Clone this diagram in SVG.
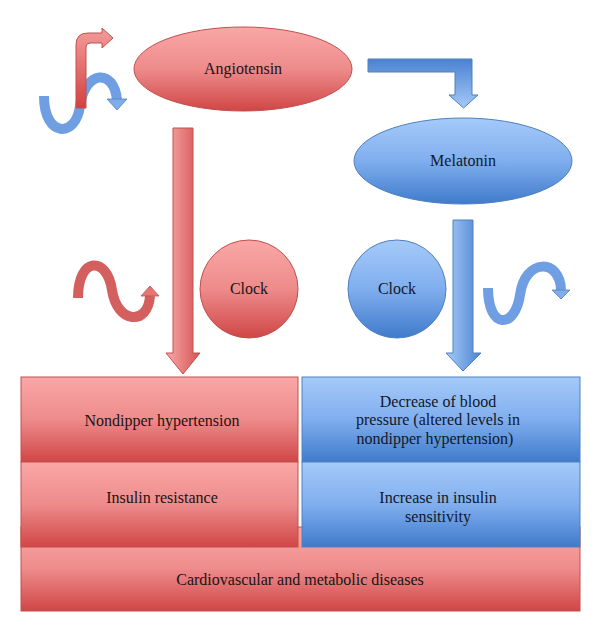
<svg xmlns="http://www.w3.org/2000/svg" width="600" height="632" viewBox="0 0 600 632">
<defs>
<linearGradient id="rv" x1="0" y1="0" x2="0" y2="1"><stop offset="0" stop-color="#faa7a7"/><stop offset="0.5" stop-color="#ee8b8b"/><stop offset="1" stop-color="#d04646"/></linearGradient>
<linearGradient id="bv" x1="0" y1="0" x2="0" y2="1"><stop offset="0" stop-color="#a5cafa"/><stop offset="0.5" stop-color="#80aeee"/><stop offset="1" stop-color="#3f7bcb"/></linearGradient>
<linearGradient id="rh" x1="0" y1="0" x2="1" y2="0"><stop offset="0" stop-color="#f8aaaa"/><stop offset="1" stop-color="#d55252"/></linearGradient>
<linearGradient id="bh" x1="0" y1="0" x2="1" y2="0"><stop offset="0" stop-color="#a7cbf8"/><stop offset="1" stop-color="#4b83d2"/></linearGradient>
<linearGradient id="bbent" x1="0" y1="0" x2="0" y2="1"><stop offset="0" stop-color="#4a82d2"/><stop offset="1" stop-color="#a6c9f7"/></linearGradient>
<linearGradient id="rbent" x1="0" y1="0" x2="0" y2="1"><stop offset="0" stop-color="#f49c9c"/><stop offset="1" stop-color="#d44040"/></linearGradient>
</defs>
<style>
.t{font-family:'Liberation Serif','Times New Roman',serif;font-size:16px;text-anchor:middle;fill:#1a1414}
.tb{font-family:'Liberation Serif','Times New Roman',serif;font-size:16px;text-anchor:middle;fill:#10182a}
.rs{stroke:#c0504d;stroke-width:1}
.bs{stroke:#4f81bd;stroke-width:1}
.rw{fill:none;stroke:#d45f5f;stroke-width:10;stroke-linecap:butt}
.bw{fill:none;stroke:#6f9fe2;stroke-width:10;stroke-linecap:butt}
</style>

<g id="connectors">
<polygon class="bs" fill="url(#bbent)" points="368,59 472,59 472,95 478,95 463.5,108 449,95 455,95 455,72 368,72"/>
<polygon class="rs" fill="url(#rh)" points="173,128 193,128 193,353 200,353 183,374 166,353 173,353"/>
<polygon class="bs" fill="url(#bh)" points="453,220 473,220 473,353 481,353 463,371 446,353 453,353"/>
</g>

<g id="wave-top-left">
<path class="bw" d="M44 96 C44 138 76 138 80 106 C85 70 114 68 117 100"/>
<polygon fill="#80adea" stroke="#4f81bd" stroke-width="0.8" points="107,99 127,99 117,110"/>
<path fill="url(#rbent)" class="rs" d="M76 108 L76 45 Q76 33 88 33 L102 33 L102 28 L113 38 L102 48 L102 43 L90 43 Q86 43 86 47 L86 108 Z"/>
</g>

<g id="wave-left">
<path class="rw" d="M78 298 C78 256 107 256 112 290 C117 324 148 326 150 296"/>
<polygon fill="#e47676" stroke="#c0504d" stroke-width="0.8" points="141,296 159,296 150,286"/>
</g>

<g id="wave-right">
<path class="bw" d="M488 288 C488 330 515 329 520 295 C525 258 560 258 561 290"/>
<polygon fill="#80adea" stroke="#4f81bd" stroke-width="0.8" points="552,290 570,290 561,299"/>
</g>

<g id="angiotensin">
<ellipse class="rs" fill="url(#rv)" cx="243" cy="69" rx="109" ry="42"/>
<text class="t" x="243" y="74">Angiotensin</text>
</g>

<g id="melatonin">
<ellipse class="bs" fill="url(#bv)" cx="463" cy="161" rx="109" ry="43"/>
<text class="tb" x="463" y="166">Melatonin</text>
</g>

<g id="clock-red">
<circle class="rs" fill="url(#rv)" cx="249" cy="289" r="49"/>
<text class="t" x="249" y="294">Clock</text>
</g>

<g id="clock-blue">
<circle class="bs" fill="url(#bv)" cx="397" cy="289" r="49"/>
<text class="tb" x="397" y="294">Clock</text>
</g>

<g id="cardio">
<rect class="rs" fill="url(#rv)" x="21" y="527" width="559" height="84"/>
<text class="t" x="300" y="585">Cardiovascular and metabolic diseases</text>
</g>

<g id="nondipper">
<rect class="rs" fill="url(#rv)" x="21" y="377" width="277" height="85"/>
<text class="t" x="162" y="426">Nondipper hypertension</text>
</g>

<g id="insulin-resistance">
<rect class="rs" fill="url(#rv)" x="21" y="462" width="277" height="85"/>
<text class="t" x="162" y="503">Insulin resistance</text>
</g>

<g id="decrease-bp">
<rect class="bs" fill="url(#bv)" x="302" y="377" width="278" height="85"/>
<text class="tb" x="438" y="407">Decrease of blood</text>
<text class="tb" x="438" y="425">pressure (altered levels in</text>
<text class="tb" x="435" y="444">nondipper hypertension)</text>
</g>

<g id="insulin-sensitivity">
<rect class="bs" fill="url(#bv)" x="302" y="462" width="278" height="85"/>
<text class="tb" x="438" y="503">Increase in insulin</text>
<text class="tb" x="438" y="522">sensitivity</text>
</g>
</svg>
